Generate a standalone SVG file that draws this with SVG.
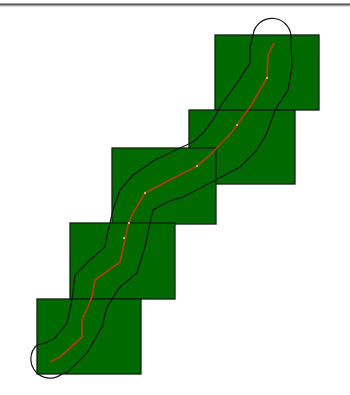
<svg xmlns="http://www.w3.org/2000/svg" width="350" height="395" viewBox="0 0 350 395">
<style>
.tile{fill:#006a00;stroke:#102010;stroke-width:1.3}
.buf{fill:none;stroke:#151515;stroke-width:1.2}
.route{fill:none;stroke:#a3400f;stroke-width:1.8;stroke-linejoin:round}
.pt{fill:#e8d070}
</style>
<rect x="0" y="0" width="350" height="395" fill="#ffffff"/>
<line x1="0" y1="4.5" x2="350" y2="4.5" stroke="#555" stroke-width="1.8"/>
<line x1="0" y1="6.5" x2="350" y2="6.5" stroke="#ddd" stroke-width="1"/>
<g id="tiles">
<g id="tile1"><rect class="tile" x="215" y="35" width="104" height="75"/></g>
<g id="tile2"><rect class="tile" x="189" y="110" width="106" height="74"/></g>
<g id="tile3"><rect class="tile" x="112" y="148" width="104" height="76"/></g>
<g id="tile4"><rect class="tile" x="70" y="223" width="105" height="76"/></g>
<g id="tile5"><rect class="tile" x="37" y="299" width="104" height="75"/></g>
</g>
<g id="buffer">
<path class="buf" d="M253,35 L250,47 L250,63 L237,83 L220,107 L213,120 L203,133 L193,142 L180,148 L155,160 L133,175 L120,190 L113,210 L110,223 L107,235 L105,247 L90,260 L75,275 L72,300 L67,323 L55,338 L45,343 L37,345 A19,19 0 1 0 63,373 L68,372 L87,353 L102,327 L107,307 L120,287 L137,273 L145,247 L150,223 L153,210 L167,202 L183,197 L210,183 L240,167 L257,150 L267,133 L275,110 L288,90 L292,67 L291,40 A19,19 0 0 0 253,35 Z"/>
</g>
<g id="route">
<polyline class="route" points="274,43 268,55 267,78 250,107 237,125 232,132 210,155 197,166 160,185 145,193 132,215 128,225 125,240 120,262 95,280 92,297 82,320 82,337 60,357 50,362"/>
<circle class="pt" cx="267" cy="78" r="1"/>
<circle class="pt" cx="237" cy="125" r="1"/>
<circle class="pt" cx="197" cy="166" r="1"/>
<circle class="pt" cx="145" cy="193" r="1"/>
<circle class="pt" cx="129" cy="223" r="1"/>
<circle class="pt" cx="124" cy="238" r="1"/>
</g>
</svg>
